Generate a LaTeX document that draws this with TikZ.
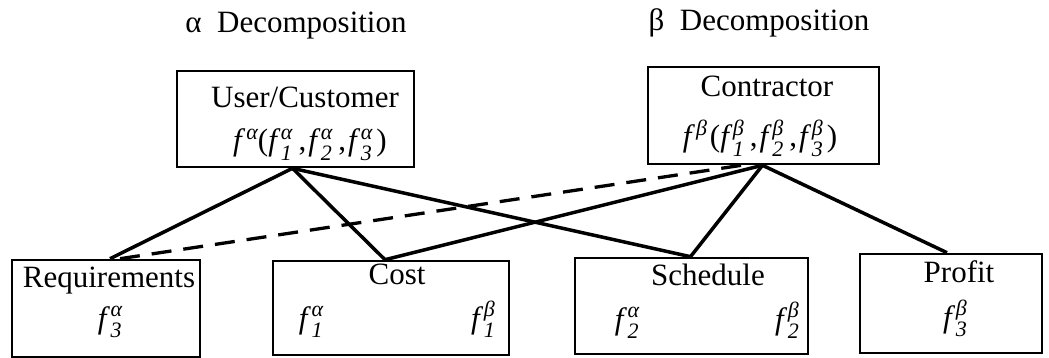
\documentclass[tikz,border=0pt]{standalone}
\usepackage{fontspec}
\setmainfont{Liberation Serif}
\usetikzlibrary{calc}
\newcommand{\scr}{\fontsize{22}{22}\selectfont\itshape}
\newcommand{\fab}[2]{\textit{f}\kern0.5pt\ooalign{\raisebox{0.38em}{\scr #2}\hfill\cr\raisebox{-0.3em}{\scr #1}\hfill\cr}}
\newcommand{\fsup}[1]{\textit{f}\kern1pt\raisebox{0.38em}{\scr #1}}
\newcommand{\cm}{\kern6pt,\kern2pt}
\tikzset{
  box/.style={draw, line width=2.6pt, rectangle, inner sep=0pt},
  lbl/.style={anchor=base, inner sep=0pt, font=\fontsize{31}{36}\selectfont},
  conn/.style={line width=3.5pt},
  dconn/.style={line width=3.3pt, dash pattern=on 20pt off 12pt}
}
\begin{document}
\begin{tikzpicture}[x=1pt,y=-1pt]
\useasboundingbox (0,0) rectangle (1049,358);
% titles
\node[lbl] (ta) at (296,33) {α\ \ Decomposition};
\node[lbl] (tb) at (759,31) {β\ \ Decomposition};
% top boxes
\node[box, minimum width=237pt, minimum height=96pt] (uc) at (295.5,119) {};
\node[box, minimum width=231pt, minimum height=97pt] (ct) at (763.5,115.5) {};
\node[lbl] (uct) at (305,108) {User/Customer};
\node[lbl] (ucf) at (310,151) {\fsup{α}(\fab{1}{α}\cm\fab{2}{α}\cm\fab{3}{α}\kern4pt)};
\node[lbl] (ctt) at (767,97) {Contractor};
\node[lbl] (ctf) at (760,147) {\fsup{β}\kern3pt(\fab{1}{β}\cm\fab{2}{β}\cm\fab{3}{β}\kern4pt)};
% bottom boxes
\node[box, minimum width=188pt, minimum height=97pt] (rq) at (106,308.5) {};
\node[box, minimum width=236pt, minimum height=94pt] (cs) at (391,308) {};
\node[box, minimum width=233pt, minimum height=96pt] (sc) at (691.5,306) {};
\node[box, minimum width=182pt, minimum height=99pt] (pf) at (951,303.5) {};
\node[lbl] (rqt) at (109,287) {Requirements};
\node[lbl] (rqf) at (110,328) {\fab{3}{α}};
\node[lbl] (cst) at (397,284) {Cost};
\node[lbl] (csa) at (311,328) {\fab{1}{α}};
\node[lbl] (csb) at (483,328) {\fab{1}{β}};
\node[lbl] (sct) at (708,285) {Schedule};
\node[lbl] (sca) at (627,329) {\fab{2}{α}};
\node[lbl] (scb) at (787,329) {\fab{2}{β}};
\node[lbl] (pft) at (959,282) {Profit};
\node[lbl] (pff) at (955,327) {\fab{3}{β}};
% attach points
\coordinate (ucb) at ([xshift=-3pt]uc.south);
\coordinate (ctb) at ([xshift=-1pt]ct.south);
\coordinate (rqn) at ([xshift=4pt]rq.north);
\coordinate (csn) at ([xshift=-6pt]cs.north);
\coordinate (scn) at ([xshift=-1pt]sc.north);
\coordinate (pfn) at ([xshift=-4pt]pf.north);
\coordinate (dsa) at ([xshift=14pt]rq.north);
\coordinate (dsb) at ([xshift=-22pt]ct.south);
% connectors
\draw[conn] (ucb) -- (rqn);
\draw[conn] (ucb) -- (csn);
\draw[conn] (ucb) -- (scn);
\draw[conn] (ctb) -- (csn);
\draw[conn] (ctb) -- (scn);
\draw[conn] (ctb) -- (pfn);
\draw[dconn] (dsa) -- (dsb);
\end{tikzpicture}
\end{document}
